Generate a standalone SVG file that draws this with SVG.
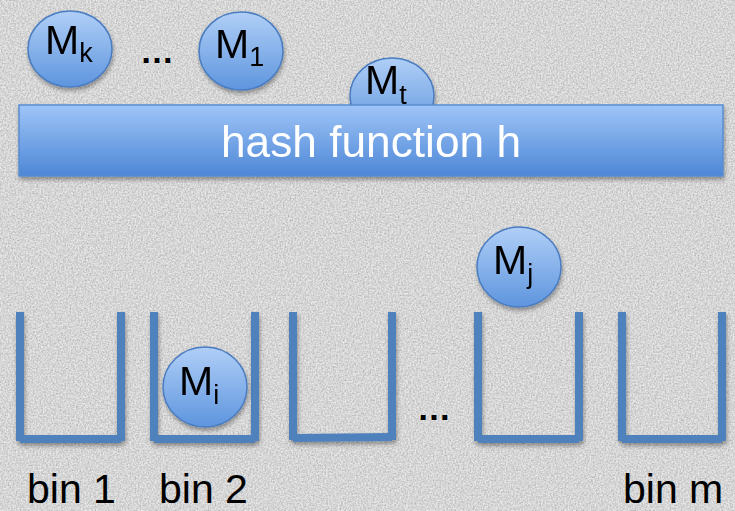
<svg xmlns="http://www.w3.org/2000/svg" width="735" height="511" viewBox="0 0 735 511">
  <defs>
    <linearGradient id="ballFill" x1="0" y1="0" x2="0" y2="1">
      <stop offset="0" stop-color="#b0cff7"/>
      <stop offset="1" stop-color="#5e95de"/>
    </linearGradient>
    <linearGradient id="barFill" x1="0" y1="0" x2="0" y2="1">
      <stop offset="0" stop-color="#9fc5f8"/>
      <stop offset="1" stop-color="#4d87d6"/>
    </linearGradient>
    <filter id="paper" x="0" y="0" width="100%" height="100%">
      <feTurbulence type="fractalNoise" baseFrequency="0.6" numOctaves="3" seed="4" result="noise"/>
      <feColorMatrix in="noise" type="matrix" values="0 0 0 0 0  0 0 0 0 0  0 0 0 0 0  0 0 0 -1.2 0.85" result="speck"/>
      <feComposite in="speck" in2="SourceGraphic" operator="in"/>
    </filter>
    <filter id="shadow" x="-10%" y="-10%" width="130%" height="140%">
      <feGaussianBlur in="SourceAlpha" stdDeviation="2"/>
      <feOffset dx="1" dy="3" result="b"/>
      <feComponentTransfer><feFuncA type="linear" slope="0.35"/></feComponentTransfer>
      <feMerge><feMergeNode/><feMergeNode in="SourceGraphic"/></feMerge>
    </filter>
  </defs>
  <style>
    .ball { fill: url(#ballFill); stroke: #4a7cc0; stroke-width: 1.5; }
    .m { font-family: "Liberation Sans", Arial, sans-serif; font-size: 41px; fill: #000; }
    .sub { font-size: 27px; }
    .wall { stroke: #4f81bd; stroke-width: 8; fill: none; }
    .lbl { font-family: "Liberation Sans", Arial, sans-serif; font-size: 41px; fill: #000; }
    .dots { font-family: "Liberation Sans", Arial, sans-serif; font-size: 34px; font-weight: bold; fill: #000; }
  </style>

  <!-- paper background -->
  <rect width="735" height="511" fill="#e7e7e7"/>
  <rect width="735" height="511" fill="#ffffff" opacity="0.3" filter="url(#paper)"/>

  <!-- messages waiting to be hashed -->
  <g id="msg-k" filter="url(#shadow)">
    <ellipse class="ball" cx="70" cy="49" rx="42" ry="38"/>
    <text class="m" x="45" y="54">M<tspan class="sub" dy="8">k</tspan></text>
  </g>
  <text id="dots-top" class="dots" x="140" y="63">…</text>
  <g id="msg-1" filter="url(#shadow)">
    <ellipse class="ball" cx="241" cy="51" rx="42" ry="39"/>
    <text class="m" x="215" y="58">M<tspan class="sub" dy="8">1</tspan></text>
  </g>
  <g id="msg-t" filter="url(#shadow)">
    <ellipse class="ball" cx="392" cy="96" rx="42" ry="38"/>
    <text class="m" x="365" y="94">M<tspan class="sub" dy="10">t</tspan></text>
  </g>

  <!-- hash function bar -->
  <g id="hash" filter="url(#shadow)">
    <rect x="19" y="105" width="704" height="71" fill="url(#barFill)" stroke="#5a8dd0" stroke-width="1.5"/>
    <text x="371" y="157" text-anchor="middle" font-family="'Liberation Sans', Arial, sans-serif" font-size="44" fill="#ffffff" textLength="300" lengthAdjust="spacingAndGlyphs">hash function h</text>
  </g>

  <!-- bins -->
  <g id="bin-1" filter="url(#shadow)">
    <line class="wall" x1="20" y1="312" x2="20" y2="441"/>
    <line class="wall" x1="121" y1="312" x2="121" y2="441"/>
    <line class="wall" x1="20" y1="439" x2="121" y2="439"/>
  </g>
  <g id="bin-2" filter="url(#shadow)">
    <line class="wall" x1="154" y1="312" x2="154" y2="441"/>
    <line class="wall" x1="255" y1="312" x2="255" y2="441"/>
    <line class="wall" x1="154" y1="439" x2="255" y2="439"/>
  </g>
  <g id="bin-3" filter="url(#shadow)">
    <line class="wall" x1="293" y1="312" x2="293" y2="440"/>
    <line class="wall" x1="392" y1="312" x2="392" y2="440"/>
    <line class="wall" x1="293" y1="438" x2="392" y2="437"/>
  </g>
  <text id="dots-bins" class="dots" x="417" y="420">…</text>
  <g id="bin-4" filter="url(#shadow)">
    <line class="wall" x1="478" y1="312" x2="478" y2="441"/>
    <line class="wall" x1="579" y1="312" x2="579" y2="441"/>
    <line class="wall" x1="478" y1="439" x2="579" y2="439"/>
  </g>
  <g id="bin-m" filter="url(#shadow)">
    <line class="wall" x1="622" y1="312" x2="622" y2="441"/>
    <line class="wall" x1="722" y1="312" x2="722" y2="441"/>
    <line class="wall" x1="622" y1="439" x2="722" y2="439"/>
  </g>

  <!-- hashed messages -->
  <g id="msg-i" filter="url(#shadow)">
    <ellipse class="ball" cx="205" cy="387" rx="42" ry="40"/>
    <text class="m" x="179" y="395">M<tspan class="sub" dy="9">i</tspan></text>
  </g>
  <g id="msg-j" filter="url(#shadow)">
    <ellipse class="ball" cx="519" cy="267" rx="42" ry="40"/>
    <text class="m" x="493" y="274">M<tspan class="sub" dy="9">j</tspan></text>
  </g>

  <!-- bin labels -->
  <g id="labels">
    <text class="lbl" x="27" y="503">bin 1</text>
    <text class="lbl" x="159" y="503">bin 2</text>
    <text class="lbl" x="623" y="503">bin m</text>
  </g>
</svg>
